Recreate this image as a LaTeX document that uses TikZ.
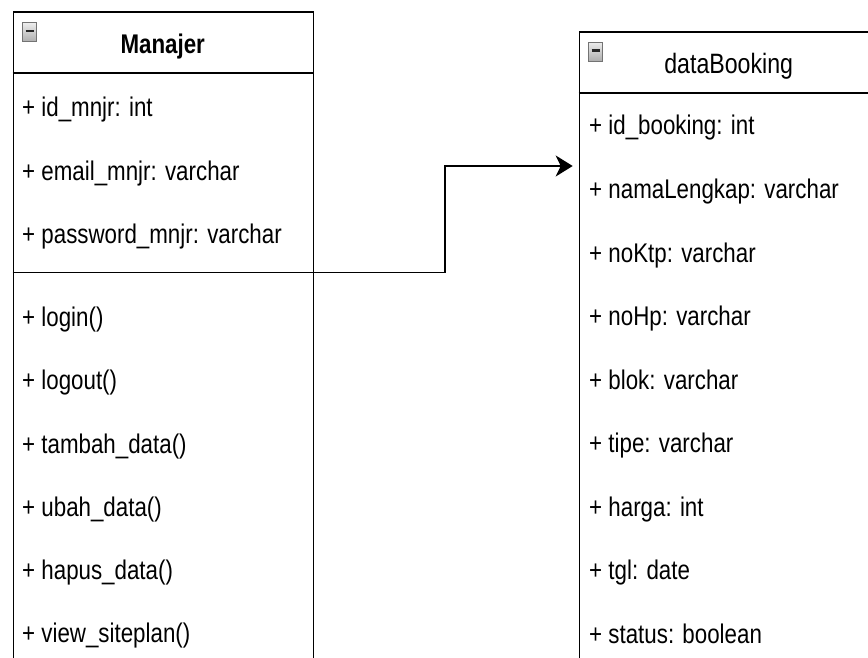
\documentclass[tikz,border=0pt]{standalone}
\usepackage{fontspec}
\setmainfont[FakeStretch=0.827]{Liberation Sans}
\usetikzlibrary{arrows.meta,positioning}

\begin{document}
\begin{tikzpicture}[x=1pt,y=-1pt,
  classbox/.style={draw,line width=1.7pt,minimum width=300pt,minimum height=900pt,anchor=north west,inner sep=0pt},
  attr/.style={anchor=base west,inner sep=0pt,font=\fontsize{27}{30}\selectfont},
  ctitle/.style={anchor=base,inner sep=0pt,font=\fontsize{27}{30}\selectfont},
  minbox/.style={draw=gray!90!black,line width=1pt,minimum width=14pt,minimum height=19pt,inner sep=0pt,
    top color=gray!15,bottom color=gray!65},
  minbar/.style={line width=2.8pt,black!85},
  link/.style={line width=1.7pt,-{Stealth[length=17pt,width=21pt,inset=5pt]},shorten >=6pt}]

\path[use as bounding box] (0,0) rectangle (868,658);
\clip (0,0) rectangle (868,658);

% class boxes
\node[classbox] (manajer) at (12.7,11) {};
\node[classbox] (booking) at (578.7,31) {};
\draw[line width=1.7pt] (manajer.north west) ++(0,61.7) -- ++(300,0);
\draw[line width=1.7pt] (manajer.north west) ++(0,261.5) -- ++(300,0);
\draw[line width=1.7pt] (booking.north west) ++(0,62) -- ++(300,0);

% headers
\node[minbox] (mico) at (29.5,32.5) {};
\node[minbox] (bico) at (595.5,51.7) {};
\draw[minbar] ([xshift=3.5pt,yshift=1.5pt]mico.west) -- ([xshift=-3.5pt,yshift=1.5pt]mico.east);
\draw[minbar] ([xshift=3.5pt,yshift=1.5pt]bico.west) -- ([xshift=-3.5pt,yshift=1.5pt]bico.east);
\node[ctitle,font=\fontsize{27}{30}\selectfont\bfseries] (mtitle) at (162.7,53.3) {Manajer};
\node[ctitle,font=\fontsize{28}{30}\selectfont] (btitle) at (728.7,73.3) {dataBooking};

% Manajer
\foreach \txt [count=\i] in {{+ id\_mnjr: int},{+ email\_mnjr: varchar},{+ password\_mnjr: varchar}}
  \node[attr] (mattr\i) at (22,{116.7+63.5*(\i-1)}) {\txt};
\foreach \txt [count=\i] in {{+ login()},{+ logout()},{+ tambah\_data()},{+ ubah\_data()},{+ hapus\_data()},{+ view\_siteplan()}}
  \node[attr] (mop\i) at (22,{326.7+63.2*(\i-1)}) {\txt};

% dataBooking
\foreach \txt [count=\i] in {{+ id\_booking: int},{+ namaLengkap: varchar},{+ noKtp: varchar},{+ noHp: varchar},{+ blok: varchar},{+ tipe: varchar},{+ harga: int},{+ tgl: date},{+ status: boolean}}
  \node[attr] (battr\i) at (589,{135+63.5*(\i-1)}) {\txt};

% relation
\coordinate (mout) at ([yshift=-261.5pt]manajer.north east);
\coordinate (bend) at (445,166);
\draw[link] (mout) -| (bend) -- (bend -| booking.west);
\end{tikzpicture}
\end{document}
